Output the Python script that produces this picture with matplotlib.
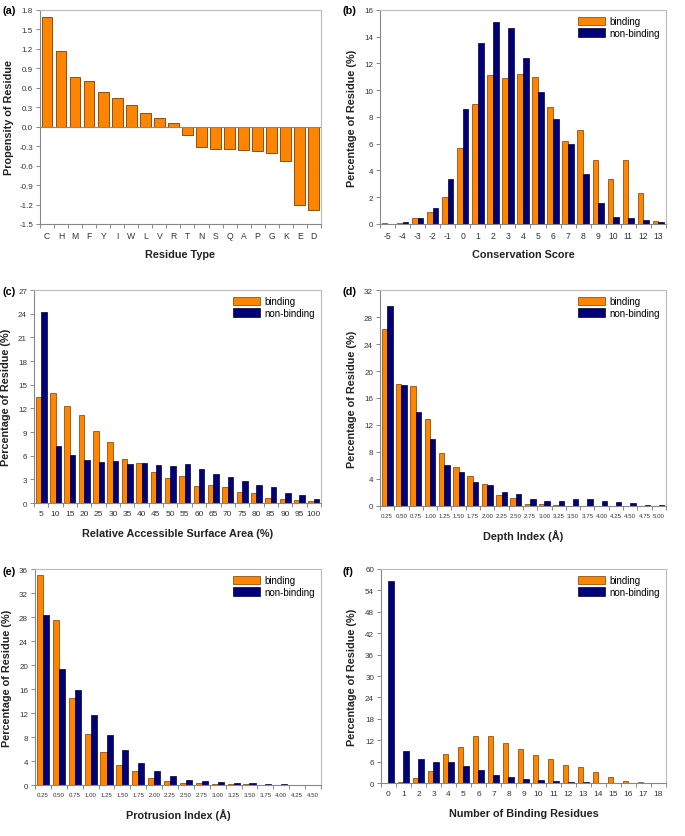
import matplotlib.pyplot as plt
import numpy as np

plt.rcParams['font.family'] = ['Liberation Sans', 'DejaVu Sans']

ORANGE = '#ff8400'
NAVY = '#000078'

# (a) propensity of residue
residues = ['C', 'H', 'M', 'F', 'Y', 'I', 'W', 'L', 'V', 'R', 'T', 'N', 'S', 'Q', 'A', 'P', 'G', 'K', 'E', 'D']
propensity = [1.69, 1.16, 0.76, 0.71, 0.54, 0.44, 0.33, 0.21, 0.14, 0.05, -0.13, -0.32, -0.35, -0.35,
              -0.36, -0.37, -0.41, -0.53, -1.20, -1.28]

# (b) conservation score
cons_labels = [str(v) for v in range(-5, 14)]
cons_bind = [0.08, 0.05, 0.45, 0.93, 2.03, 5.66, 8.97, 11.15, 10.88, 11.2, 11.0, 8.72, 6.19, 6.99,
             4.76, 3.36, 4.76, 2.28, 0.2]
cons_nonbind = [0.03, 0.15, 0.43, 1.23, 3.33, 8.57, 13.5, 15.1, 14.64, 12.4, 9.87, 7.84, 6.0, 3.7,
                1.6, 0.5, 0.45, 0.33, 0.12]

# (c) relative accessible surface area
rasa_labels = [str(v) for v in range(5, 105, 5)]
rasa_bind = [13.43, 13.98, 12.34, 11.11, 9.13, 7.69, 5.58, 5.07, 3.89, 3.13, 3.46, 2.15, 2.28, 1.99,
             1.39, 1.23, 0.68, 0.46, 0.34, 0.21]
rasa_nonbind = [24.2, 7.22, 6.13, 5.45, 5.2, 5.37, 4.94, 5.07, 4.86, 4.69, 4.9, 4.31, 3.68, 3.34,
                2.75, 2.28, 1.99, 1.23, 0.97, 0.55]

# (d) depth index
depth_labels = ['0.25', '0.50', '0.75', '1.00', '1.25', '1.50', '1.75', '2.00', '2.25', '2.50',
                '2.75', '3.00', '3.25', '3.50', '3.75', '4.00', '4.25', '4.50', '4.75', '5.00']
depth_bind = [26.29, 18.1, 17.76, 12.9, 7.79, 5.75, 4.46, 3.22, 1.59, 1.14, 0.25, 0.25, 0.1, 0.05,
              0.03, 0.02, 0.02, 0.01, 0.0, 0.0]
depth_nonbind = [29.66, 17.86, 13.89, 9.92, 6.0, 5.06, 3.62, 3.12, 2.13, 1.74, 0.99, 0.69, 0.74,
                 0.99, 1.04, 0.69, 0.64, 0.4, 0.2, 0.1]

# (e) protrusion index
prot_labels = ['0.25', '0.50', '0.75', '1.00', '1.25', '1.50', '1.75', '2.00', '2.25', '2.50',
               '2.75', '3.00', '3.25', '3.50', '3.75', '4.00', '4.25', '4.50']
prot_bind = [34.99, 27.51, 14.51, 8.48, 5.47, 3.4, 2.4, 1.12, 0.61, 0.39, 0.28, 0.22, 0.11, 0.17,
             0.05, 0.03, 0.03, 0.02]
prot_nonbind = [28.4, 19.42, 15.79, 11.66, 8.26, 5.8, 3.68, 2.29, 1.56, 0.89, 0.61, 0.45, 0.33,
                0.28, 0.11, 0.1, 0.06, 0.05]

# (f) number of binding residues
nbr_labels = [str(v) for v in range(0, 19)]
nbr_bind = [0.0, 0.37, 1.4, 3.36, 8.04, 10.0, 13.18, 13.27, 11.12, 9.44, 7.76, 6.82, 5.14, 4.39,
            2.99, 1.68, 0.65, 0.28, 0.1]
nbr_nonbind = [56.73, 9.07, 6.64, 5.98, 5.79, 4.77, 3.55, 2.24, 1.78, 1.21, 0.75, 0.47, 0.28, 0.19,
               0.1, 0.05, 0.03, 0.02, 0.0]

fig = plt.figure(figsize=(6.85, 8.37), dpi=100)


def style_axes(ax, labels, yticks, xlabel, ylabel, xfs=5.6, ylab_x=-0.08, xlab_y=-0.115,
               yfmt='{:g}'):
    n = len(labels)
    ax.set_xlim(-0.5, n - 0.5)
    ax.set_xticks(np.arange(n))
    ax.set_xticklabels(labels, fontsize=xfs, color='#333333')
    ax.set_xticks(np.arange(n + 1) - 0.5, minor=True)
    ax.tick_params(axis='x', which='major', length=0, pad=5)
    ax.tick_params(axis='x', which='minor', length=3, width=0.6, color='#777777', direction='out')
    ax.set_ylim(yticks[0], yticks[-1])
    ax.set_yticks(yticks)
    ax.set_yticklabels([yfmt.format(v) for v in yticks], fontsize=5.8, color='#333333')
    ax.tick_params(axis='y', length=3, width=0.6, color='#777777', pad=2)
    for s in ['left', 'bottom']:
        ax.spines[s].set_color('#888888')
        ax.spines[s].set_linewidth(0.8)
    for s in ['top', 'right']:
        ax.spines[s].set_color('#bbbbbb')
        ax.spines[s].set_linewidth(0.8)
    ax.set_xlabel(xlabel, fontsize=7.8, fontweight='bold', color='#222222')
    ax.set_ylabel(ylabel, fontsize=7.8, fontweight='bold', color='#222222')
    ax.yaxis.set_label_coords(ylab_x, 0.5)
    ax.xaxis.set_label_coords(0.5, xlab_y)


def grouped(ax, bind, nonbind):
    x = np.arange(len(bind))
    w = 0.38
    ax.bar(x - w / 2, bind, w, color=ORANGE, edgecolor='#7a3c00', linewidth=0.5, label='binding')
    ax.bar(x + w / 2, nonbind, w, color=NAVY, edgecolor='#000033', linewidth=0.5, label='non-binding')
    ax.legend(loc='upper right', frameon=False, fontsize=7.0, handlelength=2.8, handleheight=1.0,
              handletextpad=0.4, labelspacing=0.15, borderaxespad=0.25)


# (a)
ax = fig.add_axes([0.0584, 0.7312, 0.410, 0.2557])
ax.bar(np.arange(len(residues)), propensity, 0.76, color=ORANGE, edgecolor='#7a3c00', linewidth=0.6)
ax.axhline(0, color='#888888', linewidth=0.8)
style_axes(ax, residues, np.round(np.arange(-1.5, 1.81, 0.3), 1), 'Residue Type',
           'Propensity of Residue', xfs=6.2, ylab_x=-0.093, yfmt='{:.1f}')
fig.text(0.003, 0.983, '(a)', fontsize=7.8, fontweight='bold')

# (b)
ax = fig.add_axes([0.5547, 0.7312, 0.4175, 0.2557])
grouped(ax, cons_bind, cons_nonbind)
style_axes(ax, cons_labels, list(range(0, 17, 2)), 'Conservation Score',
           'Percentage of Residue (%)', xfs=6.2)
fig.text(0.5, 0.983, '(b)', fontsize=7.8, fontweight='bold')

# (c)
ax = fig.add_axes([0.0496, 0.3978, 0.419, 0.2545])
grouped(ax, rasa_bind, rasa_nonbind)
style_axes(ax, rasa_labels, list(range(0, 28, 3)), 'Relative Accessible Surface Area (%)',
           'Percentage of Residue (%)', xfs=6.0)
fig.text(0.003, 0.647, '(c)', fontsize=7.8, fontweight='bold')

# (d)
ax = fig.add_axes([0.5547, 0.3943, 0.4175, 0.258])
grouped(ax, depth_bind, depth_nonbind)
style_axes(ax, depth_labels, list(range(0, 33, 4)), 'Depth Index (Å)',
           'Percentage of Residue (%)', xfs=4.4, xlab_y=-0.105)
fig.text(0.5, 0.647, '(d)', fontsize=7.8, fontweight='bold')

# (e)
ax = fig.add_axes([0.0511, 0.0609, 0.4175, 0.258])
grouped(ax, prot_bind, prot_nonbind)
style_axes(ax, prot_labels, list(range(0, 37, 4)), 'Protrusion Index (Å)',
           'Percentage of Residue (%)', xfs=4.4, xlab_y=-0.105)
fig.text(0.003, 0.313, '(e)', fontsize=7.8, fontweight='bold')

# (f)
ax = fig.add_axes([0.5562, 0.0633, 0.416, 0.2557])
grouped(ax, nbr_bind, nbr_nonbind)
style_axes(ax, nbr_labels, list(range(0, 61, 6)), 'Number of Binding Residues',
           'Percentage of Residue (%)', xfs=6.0, ylab_x=-0.084)
fig.text(0.5, 0.313, '(f)', fontsize=7.8, fontweight='bold')

fig.savefig('out.png', dpi=100)
